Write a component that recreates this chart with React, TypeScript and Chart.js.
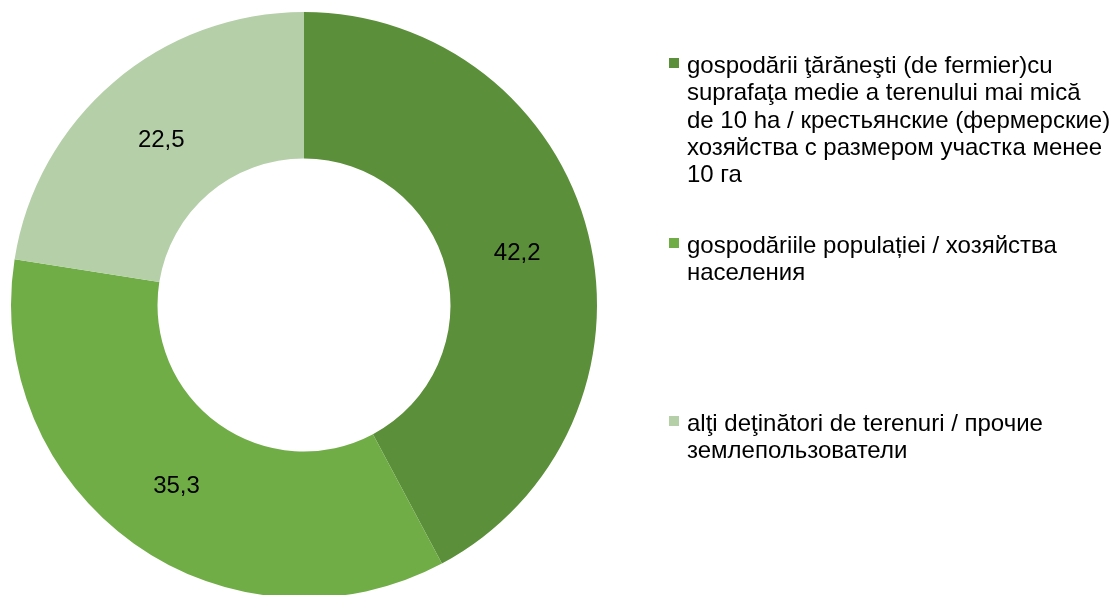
import React, { useEffect, useRef } from "react";
import { Chart, registerables } from "chart.js";

Chart.register(...registerables);

const categories: string[][] = [
  [
    "gospodării ţărăneşti (de fermier)cu",
    "suprafaţa medie a terenului mai mică",
    "de 10 ha / крестьянские (фермерские)",
    "хозяйства с размером участка менее",
    "10 га",
  ],
  ["gospodăriile populației / хозяйства", "населения"],
  ["alţi deţinători de terenuri / прочие", "землепользователи"],
];
const values: number[] = [42.2, 35.3, 22.5];
const colors: string[] = ["#5B8F3A", "#70AD47", "#B5CFA8"];

const legendTops = [51, 231, 409];
const FONT = "'Liberation Sans', Arial, sans-serif";

const labelPlugin = {
  id: "sliceLabels",
  afterDatasetsDraw(chart: any) {
    const ctx = chart.ctx;
    const meta = chart.getDatasetMeta(0);
    ctx.save();
    ctx.font = `24px ${FONT}`;
    ctx.fillStyle = "#000";
    ctx.textAlign = "center";
    ctx.textBaseline = "middle";
    meta.data.forEach((arc: any, i: number) => {
      const p = arc.tooltipPosition();
      ctx.fillText(values[i].toFixed(1).replace(".", ","), p.x, p.y + 2);
    });
    ctx.restore();
  },
};

export default function App() {
  const ref = useRef<HTMLCanvasElement | null>(null);
  useEffect(() => {
    if (!ref.current) return;
    const chart = new Chart(ref.current, {
      type: "doughnut",
      data: {
        labels: categories.map((c) => c.join(" ")),
        datasets: [
          {
            data: values,
            backgroundColor: colors,
            borderWidth: 0,
          },
        ],
      },
      options: {
        animation: false,
        responsive: false,
        cutout: "50%",
        layout: { padding: { left: 11, top: 12, right: 515, bottom: 2 } },
        plugins: { legend: { display: false }, tooltip: { enabled: false } },
      },
      plugins: [labelPlugin],
    });
    return () => chart.destroy();
  }, []);

  return (
    <div
      style={{
        position: "fixed",
        left: 0,
        top: 0,
        width: 1112,
        height: 595,
        overflow: "hidden",
        background: "#fff",
      }}
    >
      <canvas ref={ref} width={1112} height={600} style={{ display: "block", width: 1112, height: 600 }} />
      {categories.map((lines, i) => (
        <div
          key={i}
          style={{
            position: "absolute",
            left: 669,
            top: legendTops[i],
            fontFamily: FONT,
            fontSize: 24,
            lineHeight: "27.3px",
            color: "#000",
            display: "flex",
          }}
        >
          <div
            style={{
              width: 10,
              height: 10,
              background: colors[i],
              marginTop: 7,
              marginRight: 8,
              flex: "none",
            }}
          />
          <div style={{ whiteSpace: "nowrap" }}>
            {lines.map((l, j) => (
              <div key={j}>{l}</div>
            ))}
          </div>
        </div>
      ))}
    </div>
  );
}
